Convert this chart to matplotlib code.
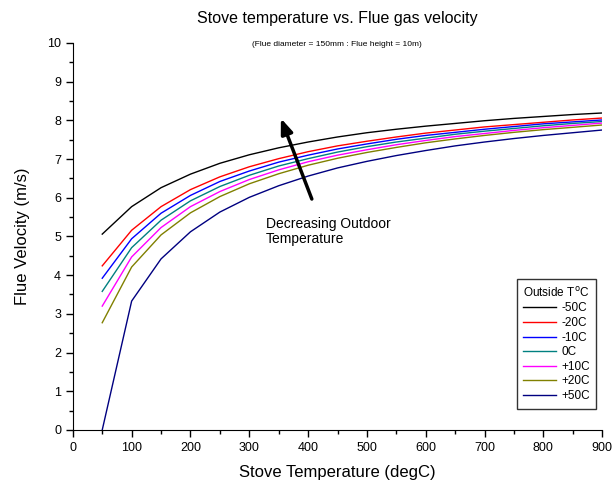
import matplotlib
matplotlib.use("Agg")
import matplotlib.pyplot as plt
from matplotlib.ticker import MultipleLocator

plt.rcParams['font.family'] = ['Liberation Sans', 'DejaVu Sans']

stove_temp = [50, 100, 150, 200, 250, 300, 350, 400, 450, 500, 550, 600, 650, 700, 750, 800, 850, 900]

v_m50 = [5.06, 5.77, 6.26, 6.61, 6.89, 7.11, 7.29, 7.44, 7.57, 7.68, 7.77, 7.85, 7.92, 7.99, 8.05, 8.10, 8.15, 8.19]
v_m20 = [4.24, 5.16, 5.77, 6.21, 6.54, 6.80, 7.01, 7.19, 7.34, 7.46, 7.57, 7.67, 7.75, 7.83, 7.89, 7.95, 8.01, 8.06]
v_m10 = [3.92, 4.94, 5.60, 6.06, 6.42, 6.69, 6.92, 7.10, 7.26, 7.39, 7.51, 7.61, 7.69, 7.77, 7.84, 7.91, 7.96, 8.01]
v_0 = [3.58, 4.71, 5.42, 5.92, 6.29, 6.58, 6.82, 7.01, 7.18, 7.32, 7.44, 7.54, 7.64, 7.72, 7.79, 7.86, 7.92, 7.97]
v_p10 = [3.20, 4.47, 5.23, 5.77, 6.16, 6.47, 6.72, 6.93, 7.10, 7.24, 7.37, 7.48, 7.58, 7.66, 7.74, 7.81, 7.87, 7.93]
v_p20 = [2.77, 4.21, 5.04, 5.61, 6.03, 6.36, 6.62, 6.84, 7.02, 7.17, 7.30, 7.42, 7.52, 7.61, 7.69, 7.76, 7.82, 7.88]
v_p50 = [0.00, 3.33, 4.42, 5.12, 5.63, 6.01, 6.31, 6.56, 6.77, 6.94, 7.09, 7.22, 7.34, 7.44, 7.53, 7.61, 7.68, 7.75]

series_labels = ['-50C', '-20C', '-10C', '0C', '+10C', '+20C', '+50C']
series_values = [v_m50, v_m20, v_m10, v_0, v_p10, v_p20, v_p50]
series_colors = ['#000000', '#ff0000', '#0000ff', '#008080', '#ff00ff', '#808000', '#000080']

fig = plt.figure(figsize=(6.12, 4.88), dpi=100)
ax = fig.add_axes([0.119, 0.119, 0.865, 0.793])

for lab, vals, col in zip(series_labels, series_values, series_colors):
    ax.plot(stove_temp, vals, color=col, lw=1.0, label=lab)

ax.set_xlim(0, 900)
ax.set_ylim(0, 10)
ax.xaxis.set_major_locator(MultipleLocator(100))
ax.xaxis.set_minor_locator(MultipleLocator(50))
ax.yaxis.set_major_locator(MultipleLocator(1))
ax.yaxis.set_minor_locator(MultipleLocator(0.5))
ax.spines['top'].set_visible(False)
ax.spines['right'].set_visible(False)
ax.tick_params(which='major', direction='out', length=5, width=1, labelsize=9)
ax.tick_params(which='minor', direction='out', length=3, width=1)

ax.set_xlabel('Stove Temperature (degC)', fontsize=12, labelpad=8)
ax.set_ylabel('Flue Velocity (m/s)', fontsize=12, labelpad=12)

fig.text(0.551, 0.963, 'Stove temperature vs. Flue gas velocity', ha='center', va='center', fontsize=11.5)
fig.text(0.551, 0.908, '(Flue diameter = 150mm : Flue height = 10m)', ha='center', va='center', fontsize=6)

ax.annotate('', xy=(352, 8.12), xytext=(408, 5.9),
            arrowprops=dict(arrowstyle='-|>,head_length=0.9,head_width=0.35', color='black', lw=2.5))
ax.text(328, 5.5, 'Decreasing Outdoor\nTemperature', fontsize=10, ha='left', va='top', linespacing=1.1)

leg = ax.legend(loc='lower right', bbox_to_anchor=(1.0, 0.04), fontsize=8.5,
                title='Outside T$^{\\rm o}$C', title_fontsize=8.5,
                frameon=True, fancybox=False, edgecolor='black', handlelength=2.8,
                handletextpad=0.4, labelspacing=0.22, borderpad=0.55)
leg.get_frame().set_linewidth(1.0)

fig.savefig('out.png', dpi=100)
